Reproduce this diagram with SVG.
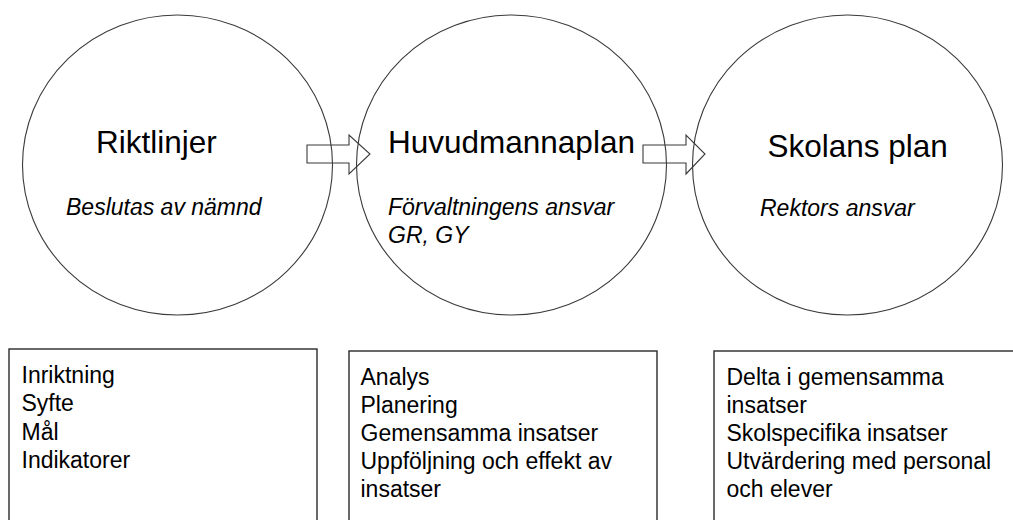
<svg xmlns="http://www.w3.org/2000/svg" width="1013" height="520" viewBox="0 0 1013 520">
<style>
.bg{fill:#ffffff}
.circ{fill:none;stroke:#3a3a3a;stroke-width:1.1}
.box{fill:#ffffff;stroke:#2a2a2a;stroke-width:1.4}
.arrow{fill:#ffffff;stroke:#3a3a3a;stroke-width:1.1;stroke-linejoin:miter}
.title{font-family:"Liberation Sans",Arial,sans-serif;font-size:31.5px;fill:#000000}
.sub{font-family:"Liberation Sans",Arial,sans-serif;font-size:23px;font-style:italic;fill:#000000}
.item{font-family:"Liberation Sans",Arial,sans-serif;font-size:23px;fill:#000000}
</style>
<rect class="bg" x="0" y="0" width="1013" height="520"/>
<g id="connectors">
<polygon class="arrow" points="307,145 349,145 349,135 370,154 349,174 349,163 307,163"/>
<polygon class="arrow" points="643,145 686,145 686,135 705,154 686,174 686,163 643,163"/>
</g>
<g id="node-riktlinjer">
<ellipse class="circ" cx="177.5" cy="165" rx="155" ry="150"/>
<text class="title" x="96" y="153">Riktlinjer</text>
<text class="sub" x="66" y="215">Beslutas av nämnd</text>
</g>
<g id="node-huvudmannaplan">
<ellipse class="circ" cx="511.5" cy="165" rx="155" ry="150"/>
<text class="title" x="388" y="153">Huvudmannaplan</text>
<text class="sub" x="388" y="215">Förvaltningens ansvar</text>
<text class="sub" x="388" y="243">GR, GY</text>
</g>
<g id="node-skolans-plan">
<ellipse class="circ" cx="847.5" cy="165" rx="155" ry="150"/>
<text class="title" x="767.5" y="156.5">Skolans plan</text>
<text class="sub" x="760" y="216">Rektors ansvar</text>
</g>
<g id="node-box-riktlinjer">
<rect class="box" x="9" y="349" width="308" height="200"/>
<text class="item" x="21.5" y="383">Inriktning</text>
<text class="item" x="21.5" y="411">Syfte</text>
<text class="item" x="21.5" y="439.5">Mål</text>
<text class="item" x="21.5" y="467.5">Indikatorer</text>
</g>
<g id="node-box-huvudmannaplan">
<rect class="box" x="349" y="351" width="308" height="200"/>
<text class="item" x="360.5" y="385">Analys</text>
<text class="item" x="360.5" y="413">Planering</text>
<text class="item" x="360.5" y="441">Gemensamma insatser</text>
<text class="item" x="360.5" y="468.5">Uppföljning och effekt av</text>
<text class="item" x="360.5" y="496.5">insatser</text>
</g>
<g id="node-box-skolans-plan">
<rect class="box" x="714" y="351" width="330" height="200"/>
<text class="item" x="726.5" y="384.5">Delta i gemensamma</text>
<text class="item" x="726.5" y="412.5">insatser</text>
<text class="item" x="726.5" y="440.5">Skolspecifika insatser</text>
<text class="item" x="726.5" y="468.5">Utvärdering med personal</text>
<text class="item" x="726.5" y="496.5">och elever</text>
</g>
</svg>
